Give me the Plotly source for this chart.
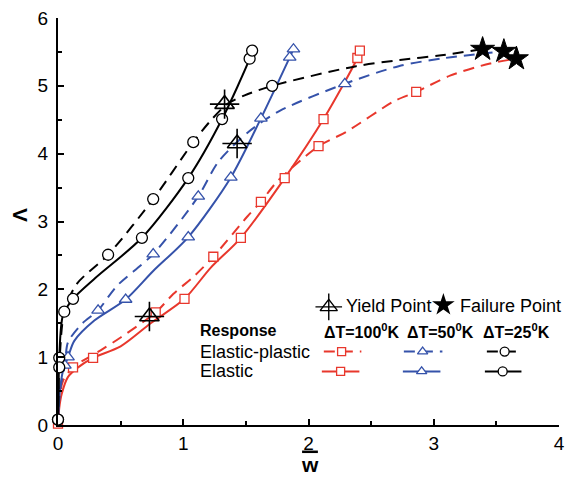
import plotly.graph_objects as go

# ---------------- data ----------------
# Elastic response, dT = 25 K (black, solid)
el25_w_line = [0, 0.004, 0.01, 0.04, 0.12, 0.30, 0.67, 1.04, 1.31, 1.53, 1.55]
el25_L_line = [0, 0.50, 0.99, 1.62, 1.86, 2.17, 2.76, 3.64, 4.51, 5.40, 5.52]
el25_w_mk = [0, 0.01, 0.12, 0.67, 1.04, 1.31, 1.53, 1.55]
el25_L_mk = [0.08, 0.99, 1.86, 2.76, 3.64, 4.51, 5.40, 5.52]

# Elastic-plastic response, dT = 25 K (black, dashed)
ep25_w_line = [0, 0.004, 0.01, 0.05, 0.15, 0.40, 0.76, 1.08, 1.22, 1.35, 1.49, 1.71, 2.38, 2.73, 3.06, 3.39]
ep25_L_line = [0, 0.50, 0.85, 1.67, 2.08, 2.51, 3.33, 4.17, 4.49, 4.73, 4.86, 5.00, 5.29, 5.38, 5.45, 5.54]
ep25_w_mk = [0, 0.01, 0.05, 0.40, 0.76, 1.08, 1.71]
ep25_L_mk = [0.08, 0.85, 1.67, 2.51, 3.33, 4.17, 5.00]

# Elastic response, dT = 50 K (blue, solid)
el50_w_line = [0, 0.015, 0.04, 0.08, 0.13, 0.29, 0.54, 0.76, 1.04, 1.38, 1.62, 1.85, 1.88]
el50_L_line = [0, 0.50, 0.80, 1.00, 1.24, 1.54, 1.85, 2.27, 2.77, 3.65, 4.52, 5.42, 5.54]
el50_w_mk = [0.08, 0.54, 1.04, 1.38, 1.62, 1.85, 1.88]
el50_L_mk = [1.00, 1.85, 2.77, 3.65, 4.52, 5.42, 5.54]

# Elastic-plastic response, dT = 50 K (blue, dashed)
ep50_w_line = [0, 0.015, 0.055, 0.08, 0.19, 0.32, 0.47, 0.76, 1.12, 1.28, 1.52, 1.77, 2.29, 2.72, 3.09, 3.56]
ep50_L_line = [0, 0.50, 0.88, 1.22, 1.49, 1.69, 2.05, 2.52, 3.37, 3.88, 4.32, 4.63, 5.03, 5.29, 5.41, 5.51]
ep50_w_mk = [0.055, 0.32, 0.76, 1.12, 2.29]
ep50_L_mk = [0.88, 1.69, 2.52, 3.37, 5.03]

# Elastic response, dT = 100 K (red, solid)
el100_w_line = [0, 0.01, 0.03, 0.08, 0.16, 0.28, 0.50, 0.74, 1.01, 1.22, 1.46, 1.81, 2.12, 2.39, 2.41]
el100_L_line = [0, 0.25, 0.46, 0.71, 0.85, 0.99, 1.16, 1.50, 1.86, 2.32, 2.76, 3.64, 4.51, 5.41, 5.52]
el100_w_mk = [0, 0.28, 1.01, 1.46, 1.81, 2.12, 2.39, 2.41]
el100_L_mk = [0.02, 0.99, 1.86, 2.76, 3.64, 4.51, 5.41, 5.52]

# Elastic-plastic response, dT = 100 K (red, dashed)
ep100_w_line = [0, 0.01, 0.04, 0.12, 0.34, 0.50, 0.78, 0.92, 1.09, 1.24, 1.51, 1.62, 1.75, 2.08,
                2.30, 2.69, 2.86, 3.13, 3.45, 3.66]
ep100_L_line = [0, 0.35, 0.65, 0.85, 1.10, 1.29, 1.66, 1.93, 2.20, 2.48, 3.07, 3.29, 3.59, 4.11,
                4.32, 4.78, 4.91, 5.15, 5.33, 5.40]
ep100_w_mk = [0.12, 0.78, 1.24, 1.62, 2.08, 2.86]
ep100_L_mk = [0.85, 1.66, 2.48, 3.29, 4.11, 4.91]

# Yield and failure points
yield_w = [1.33, 1.43, 0.73]
yield_L = [4.73, 4.15, 1.60]
fail_w = [3.39, 3.56, 3.66]
fail_L = [5.54, 5.51, 5.40]

x_ticks = [0, 1, 2, 3, 4]
y_ticks = [0, 1, 2, 3, 4, 5, 6]

# ---------------- styling ----------------
RED = "#e8372c"
BLUE = "#3552aa"
BLACK = "#000000"
FONT = "Liberation Sans, Arial, sans-serif"
DASH = "11px,7px"

W, H = 573, 481
ML, MR, MT, MB = 58, 8, 15, 56
PW, PH = W - ML - MR, H - MT - MB


def xp(px):
    return (px - ML) / PW


def yp(py):
    return (H - MB - py) / PH


fig = go.Figure()

series = [
    (el100_w_line, el100_L_line, el100_w_mk, el100_L_mk, RED, "solid", "square", 9),
    (ep100_w_line, ep100_L_line, ep100_w_mk, ep100_L_mk, RED, DASH, "square", 9),
    (el50_w_line, el50_L_line, el50_w_mk, el50_L_mk, BLUE, "solid", "triangle-up", 11),
    (ep50_w_line, ep50_L_line, ep50_w_mk, ep50_L_mk, BLUE, DASH, "triangle-up", 11),
    (el25_w_line, el25_L_line, el25_w_mk, el25_L_mk, BLACK, "solid", "circle", 11),
    (ep25_w_line, ep25_L_line, ep25_w_mk, ep25_L_mk, BLACK, DASH, "circle", 11),
]

for wl, Ll, wm, Lm, col, dash, sym, sz in series:
    fig.add_trace(go.Scatter(x=wl, y=Ll, mode="lines",
                             line=dict(color=col, width=2, dash=dash, shape="spline", smoothing=0.8),
                             cliponaxis=False, showlegend=False, hoverinfo="skip"))
for wl, Ll, wm, Lm, col, dash, sym, sz in series:
    fig.add_trace(go.Scatter(x=wm, y=Lm, mode="markers",
                             marker=dict(symbol=sym, size=sz, color="white",
                                         line=dict(color=col, width=1.3)),
                             cliponaxis=False, showlegend=False))

# yield point: open triangle with a cross through it
fig.add_trace(go.Scatter(x=yield_w, y=yield_L, mode="markers",
                         marker=dict(symbol="triangle-up-open", size=17, color=BLACK,
                                     line=dict(color=BLACK, width=1.6)),
                         cliponaxis=False, showlegend=False))
fig.add_trace(go.Scatter(x=yield_w, y=yield_L, mode="markers",
                         marker=dict(symbol="cross-thin-open", size=21, color=BLACK,
                                     line=dict(color=BLACK, width=1.6)),
                         cliponaxis=False, showlegend=False))
# failure point: filled star
fig.add_trace(go.Scatter(x=fail_w, y=fail_L, mode="markers",
                         marker=dict(symbol="star", size=18, color=BLACK,
                                     line=dict(color=BLACK, width=1)),
                         cliponaxis=False, showlegend=False))

# ---------------- key (drawn on a pixel-scaled overlay axis) ----------------
key_rows = [
    # (x0, x1, y, marker x, colour, dash, symbol, size)
    (327, 365, 351, 345, RED, DASH, "square", 8),
    (408, 447, 351, 427, BLUE, DASH, "triangle-up", 9),
    (492, 528, 351, 510, BLACK, DASH, "circle", 9),
    (325, 363, 371, 344, RED, "solid", "square", 8),
    (407, 445, 371, 426, BLUE, "solid", "triangle-up", 9),
    (490, 527, 371, 508, BLACK, "solid", "circle", 9),
]
for x0, x1, yy, xm, col, dash, sym, sz in key_rows:
    fig.add_trace(go.Scatter(x=[x0, x1], y=[yy, yy], mode="lines", xaxis="x2", yaxis="y2",
                             line=dict(color=col, width=2, dash=dash),
                             cliponaxis=False, showlegend=False, hoverinfo="skip"))
    fig.add_trace(go.Scatter(x=[xm], y=[yy], mode="markers", xaxis="x2", yaxis="y2",
                             marker=dict(symbol=sym, size=sz, color="white", line=dict(color=col, width=1.3)),
                             cliponaxis=False, showlegend=False, hoverinfo="skip"))

fig.add_trace(go.Scatter(x=[332], y=[306], mode="markers", xaxis="x2", yaxis="y2",
                         marker=dict(symbol="triangle-up-open", size=15, color=BLACK,
                                     line=dict(color=BLACK, width=1.4)),
                         cliponaxis=False, showlegend=False, hoverinfo="skip"))
fig.add_trace(go.Scatter(x=[332], y=[306], mode="markers", xaxis="x2", yaxis="y2",
                         marker=dict(symbol="cross-thin-open", size=19, color=BLACK,
                                     line=dict(color=BLACK, width=1.4)),
                         cliponaxis=False, showlegend=False, hoverinfo="skip"))
fig.add_trace(go.Scatter(x=[448], y=[304], mode="markers", xaxis="x2", yaxis="y2",
                         marker=dict(symbol="star", size=17, color=BLACK),
                         cliponaxis=False, showlegend=False, hoverinfo="skip"))

key_text = [
    (347, 305, "Yield Point", False),
    (463, 305, "Failure Point", False),
    (200, 330, "Response", True),
    (325, 330, "\u0394T=100<sup>0</sup>K", True),
    (409, 330, "\u0394T=50<sup>0</sup>K", True),
    (486, 330, "\u0394T=25<sup>0</sup>K", True),
    (200, 351, "Elastic-plastic", False),
    (200, 371, "Elastic", False),
]
annotations = []
for x, y, txt, bold in key_text:
    annotations.append(dict(x=xp(x), y=yp(y), xref="paper", yref="paper", xanchor="left", yanchor="middle",
                            text=f"<b>{txt}</b>" if bold else txt, showarrow=False,
                            font=dict(family=FONT, size=16 if bold else 18, color=BLACK)))

# axis titles
annotations.append(dict(x=xp(313), y=yp(465), xref="paper", yref="paper", xanchor="center", yanchor="middle",
                        text="<b>w</b>", showarrow=False, font=dict(family=FONT, size=21, color=BLACK)))
annotations.append(dict(x=xp(19), y=yp(213), xref="paper", yref="paper", xanchor="center", yanchor="middle",
                        text="<b>\u039b</b>", showarrow=False, textangle=-90,
                        font=dict(family=FONT, size=21, color=BLACK)))

shapes = [dict(type="line", xref="paper", yref="paper", x0=xp(305), x1=xp(321), y0=yp(452), y1=yp(452),
               line=dict(color=BLACK, width=2.5))]

axis_common = dict(showgrid=False, zeroline=False, showline=True, linecolor=BLACK, linewidth=2,
                   ticks="inside", ticklen=6, tickwidth=1.5, tickcolor=BLACK,
                   tickfont=dict(family=FONT, size=19, color=BLACK),
                   minor=dict(ticks="inside", ticklen=4, tickwidth=1.5, tickcolor=BLACK))

fig.update_layout(
    width=W, height=H,
    margin=dict(l=ML, r=MR, t=MT, b=MB),
    paper_bgcolor="white", plot_bgcolor="white",
    showlegend=False,
    xaxis=dict(range=[0, 4], tickvals=x_ticks, minor_dtick=0.5, **axis_common),
    yaxis=dict(range=[0, 6], tickvals=y_ticks, minor_dtick=0.5, ticklabelstandoff=4, **axis_common),
    xaxis2=dict(range=[ML, W - MR], visible=False, domain=[0, 1], anchor="y2", overlaying="x"),
    yaxis2=dict(range=[H - MB, MT], visible=False, domain=[0, 1], anchor="x2", overlaying="y"),
    annotations=annotations,
    shapes=shapes,
)

fig.write_html("out.html")
